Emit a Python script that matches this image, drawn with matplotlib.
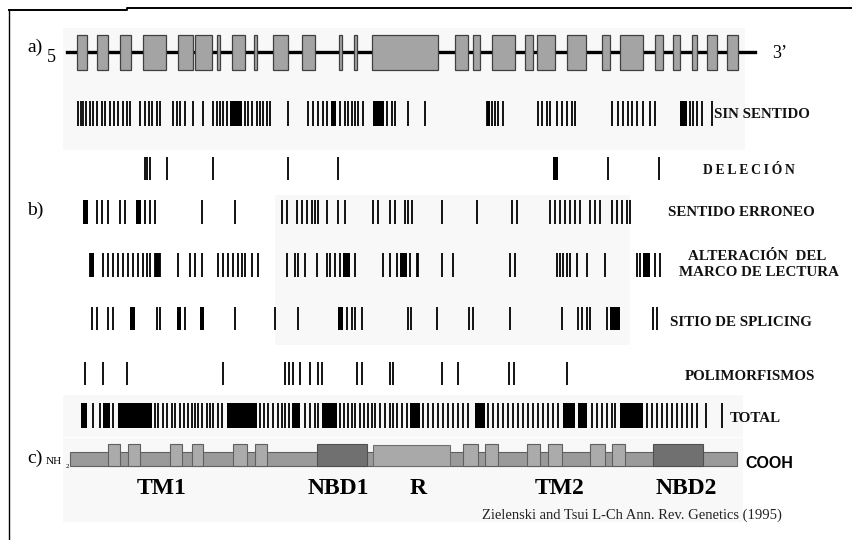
import matplotlib
matplotlib.use("Agg")
import matplotlib.pyplot as plt
from matplotlib.patches import Rectangle

# positions along the gene (drawing units, 0-853 wide)
exons = [(77, 87), (97, 108), (120, 131), (143, 166), (178, 193), (195, 212), (217, 220),
         (232, 245), (254, 257), (273, 288), (302, 315), (339, 342), (354, 357), (372, 438),
         (455, 468), (473, 480), (492, 515), (525, 533), (537, 555), (567, 586), (602, 610),
         (620, 643), (655, 663), (673, 680), (692, 697), (707, 717), (727, 738)]

sin_sentido = [78, 81, 83, 86, 90, 93, 97, 102, 105, 110, 114, 118, 123, 127, 130, 140, 145,
               149, 152, 157, 160, 173, 177, 180, 185, 193, 203, 213, 217, 220, 223, 227, 245,
               248, 252, 257, 260, 263, 267, 270, 288, 308, 313, 318, 323, 327, 340, 345, 348,
               352, 355, 358, 363, 387, 392, 395, 408, 425, 487, 492, 495, 498, 503, 538, 542,
               547, 550, 557, 562, 567, 572, 575, 612, 618, 623, 628, 632, 637, 643, 650, 655,
               690, 693, 697, 702, 712]
sin_sentido_blocks = [(230, 242), (331, 336), (373, 384), (487, 490), (680, 687)]

delecion = [145, 147, 150, 167, 213, 288, 338, 608, 659]
delecion_blocks = [(553, 558)]

sentido_erroneo = [84, 87, 97, 102, 108, 120, 125, 137, 140, 145, 150, 155, 202, 235, 282, 287,
                   297, 302, 307, 312, 315, 318, 327, 338, 345, 373, 378, 390, 395, 405, 408,
                   412, 442, 477, 512, 517, 550, 555, 560, 565, 570, 575, 580, 590, 595, 600,
                   612, 617, 622, 627, 630]
sentido_erroneo_blocks = [(83, 88), (136, 141)]

marco_lectura = [90, 93, 103, 108, 113, 118, 123, 128, 133, 138, 143, 147, 150, 155, 160, 178,
                 190, 195, 202, 218, 223, 228, 233, 238, 242, 245, 252, 258, 287, 295, 298,
                 305, 317, 327, 330, 335, 340, 355, 383, 390, 397, 418, 410, 417, 442, 453,
                 510, 515, 557, 560, 563, 567, 570, 577, 587, 605, 637, 640, 655, 660]
marco_lectura_blocks = [(90, 94), (155, 160), (343, 350), (400, 407), (643, 650)]

splicing = [92, 97, 108, 113, 157, 160, 185, 235, 275, 298, 347, 352, 355, 362, 408, 411, 437,
            469, 473, 510, 562, 578, 582, 587, 590, 607, 653, 657]
splicing_blocks = [(130, 135), (177, 181), (200, 204), (338, 343), (610, 620)]

polimorfismos = [85, 103, 127, 223, 285, 289, 293, 300, 310, 318, 322, 357, 362, 390, 393,
                 442, 458, 509, 514, 567]

total = [93, 100, 113, 155, 158, 163, 167, 172, 175, 180, 184, 188, 192, 195, 198, 202, 207,
         210, 213, 218, 222, 260, 264, 268, 273, 278, 282, 285, 289, 305, 310, 315, 318, 340,
         344, 348, 352, 355, 360, 364, 368, 372, 375, 380, 385, 390, 393, 397, 402, 407, 412,
         417, 423, 428, 433, 438, 443, 448, 453, 458, 463, 468, 488, 493, 498, 503, 508, 513,
         518, 523, 528, 533, 538, 543, 548, 553, 558, 592, 597, 602, 607, 612, 615, 647, 652,
         657, 662, 667, 672, 677, 682, 687, 692, 697, 706, 722]
total_blocks = [(81, 87), (103, 110), (118, 152), (227, 257), (292, 300), (322, 337),
                (410, 420), (475, 485), (563, 575), (578, 587), (620, 643)]

rows = [
    (sin_sentido, sin_sentido_blocks, 101, 126),
    (delecion, delecion_blocks, 157, 180),
    (sentido_erroneo, sentido_erroneo_blocks, 200, 224),
    (marco_lectura, marco_lectura_blocks, 253, 277),
    (splicing, splicing_blocks, 307, 330),
    (polimorfismos, [], 362, 385),
    (total, total_blocks, 403, 428),
]

tm_boxes = [(108, 120), (128, 140), (170, 182), (192, 203), (233, 247), (255, 267),
            (463, 478), (485, 498), (527, 540), (548, 562), (590, 605), (612, 625)]
nbd_boxes = [(317, 367), (653, 703)]
r_box = (373, 450)
domain_labels = ["TM1", "NBD1", "R", "TM2", "NBD2"]
domain_x = [162, 338, 418, 560, 686]

fig = plt.figure(figsize=(8.53, 5.4), dpi=100)
ax = fig.add_axes([0, 0, 1, 1])
ax.set_xlim(0, 853)
ax.set_ylim(540, 0)
ax.axis("off")

serif = "Liberation Serif"

# faint scan shading
for (x0, y0, w, h) in [(63, 28, 682, 122), (275, 195, 355, 150), (63, 395, 680, 42), (63, 438, 680, 84)]:
    ax.add_patch(Rectangle((x0, y0), w, h, color="#f8f8f8", lw=0, zorder=0))

# frame
ax.plot([9, 127, 127, 853], [10, 10, 8, 8], color="black", lw=1.4)
ax.plot([9, 9], [10, 540], color="black", lw=1.0)

# a) gene
ax.plot([67, 755], [52, 52], color="black", lw=2.4, zorder=1)
for s, e in exons:
    ax.add_patch(Rectangle((s, 35), e - s, 35, facecolor="#a4a4a4", edgecolor="#404040",
                           lw=0.9, zorder=2))
ax.text(27, 47, "a)", fontsize=14, family=serif, va="center")
ax.text(47, 57, "5", fontsize=13, family=serif, va="center")
ax.text(772, 53, "3\u2019", fontsize=13, family=serif, va="center")
ax.text(27, 210, "b)", fontsize=14, family=serif, va="center")

# mutation rows
for pos, blocks, top, bot in rows:
    ax.vlines(pos, top, bot, color="black", lw=1.3)
    for s, e in blocks:
        ax.add_patch(Rectangle((s, top), e - s, bot - top, color="black", lw=0))

lab = dict(family=serif, fontsize=10.8, fontweight="bold", va="center", color="#111111")
ax.text(714, 114, "SIN SENTIDO", **lab)
ax.text(703, 170, "D E L E C I \u00d3 N".replace(" ", "\u2009"),
        **{**lab, "fontsize": 9.8})
ax.text(668, 213, "SENTIDO ERRONEO", **lab)
ax.text(757, 257, "ALTERACI\u00d3N  DEL", ha="center", **lab)
ax.text(759, 273, "MARCO DE LECTURA", ha="center", **lab)
ax.text(670, 322, "SITIO DE SPLICING", **lab)
ax.text(685, 376, "POLIMORFISMOS", **lab)
ax.text(730, 418, "TOTAL", **lab)

# c) protein
ax.add_patch(Rectangle((70, 452), 667, 14, facecolor="#9a9a9a", edgecolor="#606060", lw=0.8, zorder=2))
for s, e in tm_boxes:
    ax.add_patch(Rectangle((s, 444), e - s, 22, facecolor="#ababab", edgecolor="#606060", lw=0.8, zorder=3))
for s, e in nbd_boxes:
    ax.add_patch(Rectangle((s, 444), e - s, 22, facecolor="#707070", edgecolor="#505050", lw=0.8, zorder=3))
ax.add_patch(Rectangle((r_box[0], 445), r_box[1] - r_box[0], 21, facecolor="#a9a9a9",
                       edgecolor="#707070", lw=0.8, zorder=3))
ax.text(27, 458, "c)", fontsize=14, family=serif, va="center")
ax.text(46, 462, "NH", fontsize=8, family=serif, va="center")
ax.text(66, 467, "2", fontsize=5, family=serif, va="center")
ax.text(745, 463, "COOH", fontsize=11.5, family="Liberation Sans", fontweight="bold", va="center")
for name, x in zip(domain_labels, domain_x):
    ax.text(x, 489, name, fontsize=17, family=serif, fontweight="bold", ha="center", va="center")
ax.text(632, 515, "Zielenski and Tsui L-Ch Ann. Rev. Genetics (1995)", fontsize=10.5,
        family=serif, ha="center", va="center", color="#222222")

fig.savefig("out.png", dpi=100)
